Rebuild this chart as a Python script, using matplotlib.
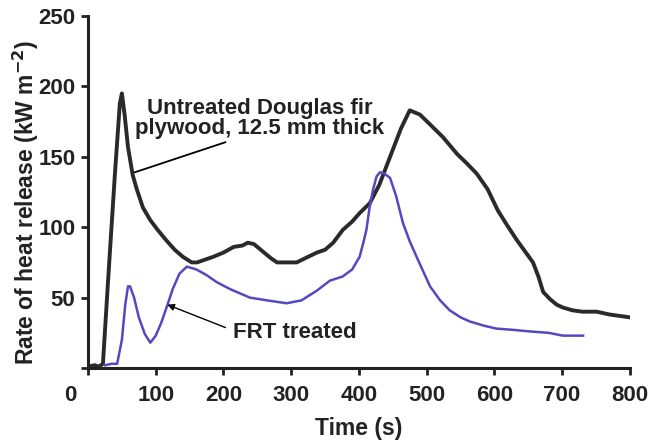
import matplotlib
matplotlib.use("Agg")
import matplotlib.pyplot as plt
import matplotlib.transforms as mtransforms

plt.rcParams['font.family'] = ['Liberation Sans', 'DejaVu Sans']
plt.rcParams['font.weight'] = 'bold'

# untreated Douglas fir plywood
untreated_t = [0, 10, 16, 22, 30, 40, 47, 50, 54, 59, 66, 72, 81, 92, 103, 115, 128, 140, 153,
               161, 173, 185, 200, 215, 228, 236, 245, 260, 270, 279, 293, 308, 325, 338, 350, 362,
               376, 390, 401, 416, 430, 450, 462, 475, 490, 505, 524, 545, 560, 574, 590,
               605, 618, 633, 645, 657, 665, 672, 682, 692, 701, 715, 730, 751, 770, 785, 800]
untreated_q = [1, 2, 1, 3, 65, 140, 188, 195, 180, 157, 137, 127, 114, 105, 98, 91, 84, 79, 75,
               75, 77, 79, 82, 86, 87, 89, 88, 82, 78, 75, 75, 75, 79, 82, 84, 89,
               98, 104, 110, 117, 130, 155, 170, 183, 180, 173, 164, 152, 145, 138, 127,
               112, 102, 91, 83, 75, 65, 54, 49, 45, 43, 41, 40, 40, 38, 37, 36]

# FRT treated plywood
frt_t = [25, 35, 43, 50, 55, 59, 62, 68, 75, 84, 92, 100, 108, 116, 125, 135, 146, 160, 175,
         190, 210, 239, 265, 293, 315, 338, 357, 376, 390, 401, 406, 411, 416, 421, 426, 431,
         438, 446, 455, 465, 475, 487, 505, 520, 534, 550, 564, 585, 603, 630, 652, 680, 701, 731]
frt_q = [2, 3, 3, 20, 45, 58, 58, 50, 36, 24, 18, 23, 32, 43, 56, 67, 72, 70, 66,
         61, 56, 50, 48, 46, 48, 55, 62, 65, 70, 79, 88, 98, 115, 127, 136, 139,
         138, 135, 122, 103, 90, 77, 58, 48, 41, 36, 33, 30, 28, 27, 26, 25, 23, 23]

x_ticks = [0, 100, 200, 300, 400, 500, 600, 700, 800]
y_ticks = [0, 50, 100, 150, 200, 250]
y_tick_labels = ['', '50', '100', '150', '200', '250']

ink = '#222222'

fig = plt.figure(figsize=(6.52, 4.4), dpi=100)
ax = fig.add_axes([0.135, 0.1636, 0.831, 0.80])

ax.plot(untreated_t, untreated_q, color='#2a2a2a', lw=2.8, solid_joinstyle='round')
ax.plot(frt_t, frt_q, color='#5548c0', lw=1.8)

ax.set_xlim(0, 800)
ax.set_ylim(0, 250)
ax.set_xticks(x_ticks)
ax.set_yticks(y_ticks)
ax.set_yticklabels(y_tick_labels)

for side in ['top', 'right']:
    ax.spines[side].set_visible(False)
for side in ['left', 'bottom']:
    ax.spines[side].set_linewidth(2.2)
    ax.spines[side].set_color(ink)

ax.tick_params(axis='both', direction='out', length=5, width=2, color=ink,
               labelsize=16, labelcolor=ink, pad=4)
ax.tick_params(axis='x', pad=7)

# origin label sits left of the axis in the original
lbl0 = ax.get_xticklabels()[0]
lbl0.set_transform(lbl0.get_transform() +
                   mtransforms.ScaledTranslation(-0.18, 0, fig.dpi_scale_trans))

ax.set_xlabel('Time (s)', fontsize=16.5, fontweight='bold', color=ink, labelpad=8)
ax.set_ylabel('Rate of heat release (kW m$^{\\mathbf{-2}}$)', fontsize=16.5,
              fontweight='bold', color=ink)
ax.yaxis.set_label_coords(-0.086, 0.47)

ax.annotate('Untreated Douglas fir\nplywood, 12.5 mm thick', xy=(69, 139), xytext=(254, 177),
            fontsize=16, fontweight='bold', color=ink, ha='center', va='center',
            linespacing=0.95,
            arrowprops=dict(arrowstyle='-', color='black', lw=1.3, shrinkA=0, shrinkB=0,
                            relpos=(0.42, 0.05)))

ax.annotate('FRT treated', xy=(117, 45), xytext=(306, 25),
            fontsize=16, fontweight='bold', color=ink, ha='center', va='center',
            arrowprops=dict(arrowstyle='-|>', color='black', lw=1.0, shrinkA=4, shrinkB=0,
                            mutation_scale=10, relpos=(0.0, 0.6)))

fig.savefig('out.png', dpi=100)
